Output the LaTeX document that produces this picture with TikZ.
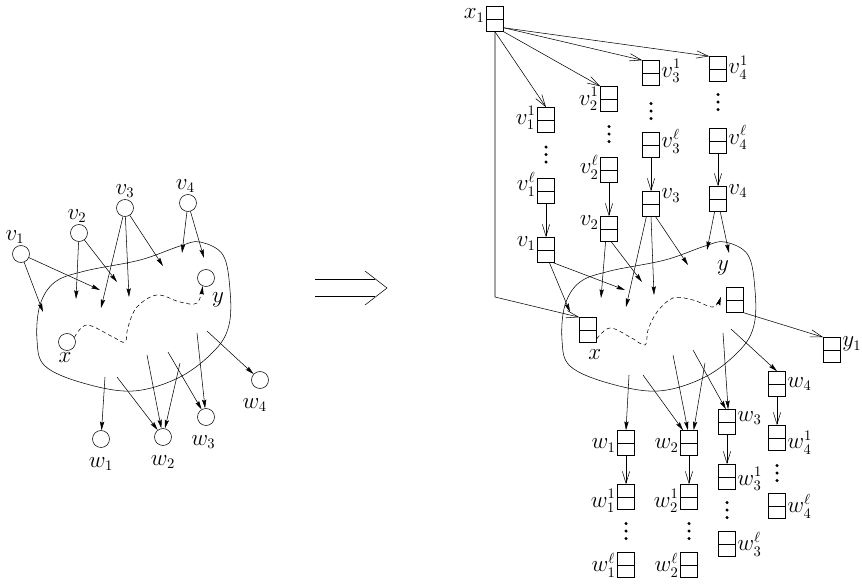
\documentclass[tikz,border=0pt]{standalone}
\usepackage{amsmath}
\usetikzlibrary{arrows.meta,calc}
\tikzset{
    x=0.75pt,y=-0.75pt,line width=0.7pt,
    state/.style={circle,draw,minimum size=12.75pt,inner sep=0pt,label distance=2.5pt},
    slot/.style={rectangle,draw,minimum width=12.75pt,minimum height=18.75pt,inner sep=0pt,label distance=2.5pt,
        path picture={\draw (path picture bounding box.west) -- (path picture bounding box.east);}},
    every label/.style={inner sep=1pt,font=\fontsize{16}{19}\selectfont},
    thinarrow/.style={-{Stealth[length=6.5pt,width=3.2pt,inset=1pt]}},
    openarrow/.style={-{Straight Barb[length=9pt,width=5.5pt]}},
    dashpath/.style={thinarrow,dash pattern=on 3pt off 2.2pt}
}

\begin{document}
\begin{tikzpicture}
\useasboundingbox (0,0) rectangle (862,583);
% left graph
\node[state,label={[xshift=-4.5pt]above:$v_1$}] (v1) at (21,254) {};
\node[state,label={[xshift=-1.5pt]above:$v_2$}] (v2) at (79,233) {};
\node[state,label={above:$v_3$}] (v3) at (125,208) {};
\node[state,label={[xshift=-2pt]above:$v_4$}] (v4) at (188,203) {};
\node[state,label={[xshift=-1.5pt]below:$x$}] (x) at (67,342) {};
\node[state,label={[xshift=9pt,yshift=-3pt]below:$y$}] (y) at (206,278) {};
\node[state,label={[yshift=-6pt]below:$w_1$}] (w1) at (101,439) {};
\node[state,label={[yshift=-6pt]below:$w_2$}] (w2) at (163,437) {};
\node[state,label={[xshift=-2pt,yshift=-6pt]below:$w_3$}] (w3) at (206,417) {};
\node[state,label={[xshift=-4pt,yshift=-6pt]below:$w_4$}] (w4) at (260,380) {};
\foreach \dx in {0,525}
\draw[shift={(\dx,0)}] plot[smooth cycle,tension=0.6] coordinates {(200,242) (223,255) (230,290) (229,325) (215,350) (180,377) (133,391) (83,383) (45,366) (37,340) (40,305) (55,282) (85,271) (140,260) (180,246)};
\coordinate (a1) at (43,312); \coordinate (a2) at (100,290); \coordinate (a3) at (76,299);
\coordinate (a4) at (117,282); \coordinate (a5) at (101,308); \coordinate (a6) at (129,297);
\coordinate (a7) at (163,266); \coordinate (a8) at (182,253); \coordinate (a9) at (204,258);
\coordinate (b1) at (105,377); \coordinate (b2) at (117,377); \coordinate (b3) at (147,355);
\coordinate (b4) at (180,363); \coordinate (b5) at (168,352); \coordinate (b6) at (197,333);
\coordinate (b7) at (207,331);
\foreach \s/\t in {v1/a1,v1/a2,v2/a3,v2/a4,v3/a5,v3/a6,v3/a7,v4/a8,v4/a9,b1/w1,b2/w2,b3/w2,b4/w2,b5/w3,b6/w3,b7/w4}
\draw[thinarrow] (\s) -- (\t);
\draw[dashpath] plot[smooth,tension=0.6] coordinates {(x.32) (87,325) (113,337) (125,342) (128,327) (137,307) (157,295) (180,302) (197,303) (y.-112)};
% implies
\coordinate (imp1) at (315,288);
\coordinate (imp2) at (387,288);
\draw (imp1) ++(0,-8.5) -- ++(60,0) (imp1) ++(0,8.5) -- ++(60,0);
\draw (imp2) ++(-22,-17) -- (imp2) -- ++(-22,17);
% right graph
\node[slot,label={[yshift=2.5pt]left:$x_1$}] (x1) at (495,19) {};
\node[slot,label={[yshift=1.5pt]left:$v_1^1$}] (V11) at (546,120) {};
\node[slot,label={[yshift=5pt]left:$v_1^\ell$}] (V1l) at (546,191) {};
\node[slot,label={[yshift=5pt]left:$v_1$}] (V1) at (546,250) {};
\node[slot,label={left:$v_2^1$}] (V21) at (609,99) {};
\node[slot,label={[yshift=2pt]left:$v_2^\ell$}] (V2l) at (609,170) {};
\node[slot,label={[yshift=5pt]left:$v_2$}] (V2) at (609,229) {};
\node[slot,label={[yshift=1.5pt]right:$v_3^1$}] (V31) at (651,73) {};
\node[slot,label={[yshift=3pt]right:$v_3^\ell$}] (V3l) at (651,145) {};
\node[slot,label={[yshift=6.5pt]right:$v_3$}] (V3) at (651,204) {};
\node[slot,label={[yshift=1pt]right:$v_4^1$}] (V41) at (718,69) {};
\node[slot,label={[yshift=2.5pt]right:$v_4^\ell$}] (V4l) at (718,141) {};
\node[slot,label={[yshift=6pt]right:$v_4$}] (V4) at (718,199) {};
\node[slot,label={[xshift=5pt,yshift=-4pt]below:$x$}] (X) at (588,330) {};
\node[slot,label={[xshift=-9pt,yshift=8pt]above:$y$}] (Yb) at (735,300) {};
\node[slot,label={[yshift=4.5pt]right:$y_1$}] (Y1) at (832,350) {};
\node[slot,label={[yshift=-2pt]left:$w_1$}] (W1) at (626,443) {};
\node[slot,label={[yshift=-3pt]left:$w_1^1$}] (W11) at (626,497) {};
\node[slot,label={left:$w_1^\ell$}] (W1l) at (626,565) {};
\node[slot,label={[yshift=-2pt]left:$w_2$}] (W2) at (689,443) {};
\node[slot,label={[yshift=-3pt]left:$w_2^1$}] (W21) at (689,497) {};
\node[slot,label={left:$w_2^\ell$}] (W2l) at (689,565) {};
\node[slot,label={[yshift=3pt]right:$w_3$}] (W3) at (727,422) {};
\node[slot,label={[yshift=-1.5pt]right:$w_3^1$}] (W31) at (727,477) {};
\node[slot,label={right:$w_3^\ell$}] (W3l) at (727,544) {};
\node[slot,label={right:$w_4$}] (W4) at (777,384) {};
\node[slot,label={[yshift=-3.5pt]right:$w_4^1$}] (W41) at (777,438) {};
\node[slot,label={right:$w_4^\ell$}] (W4l) at (777,506) {};
\foreach \cx/\cy in {546/154.5,609/134,651/111,718/102,626/531,689/531,727/510,777/473}
\foreach \k in {-1,0,1}
\fill (\cx,\cy+7.5*\k) circle (1.3pt);
\coordinate (xturn) at (495,297);
\draw[openarrow] (x1.south) -- (V11.north);
\draw[openarrow] (x1.south east) -- (V21.north west);
\foreach \t in {V31,V41}
\draw[openarrow] (x1.-45) -- (\t.north west);
\draw[openarrow] (x1.south) -- (xturn) -- (X.north west);
\foreach \s/\t in {V1l/V1,V2l/V2,V3l/V3,V4l/V4,W1/W11,W2/W21,W3/W31,W4/W41}
\draw[openarrow] (\s) -- (\t);
\draw[openarrow] (Yb.south east) -- (Y1.north west);
\coordinate (A1) at (570,312); \coordinate (A2) at (625,290); \coordinate (A3) at (601,298);
\coordinate (A4) at (642,282); \coordinate (A5) at (626,307); \coordinate (A6) at (654,295);
\coordinate (A7) at (688,265); \coordinate (A8) at (707,250); \coordinate (A9) at (729,253);
\coordinate (B1) at (629,375); \coordinate (B2) at (643,375); \coordinate (B3) at (673,355);
\coordinate (B4) at (705,363); \coordinate (B5) at (693,350); \coordinate (B6) at (723,333);
\coordinate (B7) at (731,329);
\foreach \s/\t in {V1.-75/A1,V1.-60/A2,V2.-105/A3,V2.-80/A4,V3.-110/A5,V3.-90/A6,V3.-70/A7,V4.-105/A8,V4.-80/A9,
    B1/W1.north,B2/W2.115,B3/W2.95,B4/W2.70,B5/W3.95,B6/W3.85,B7/W4.north}
\draw[thinarrow] (\s) -- (\t);
\draw[dashpath] plot[smooth,tension=0.6] coordinates {(X.-45) (610,328) (630,337) (645,345) (648,330) (657,312) (673,298) (693,300) (713,307) ([xshift=-4pt]Yb.160)};
\end{tikzpicture}
\end{document}
